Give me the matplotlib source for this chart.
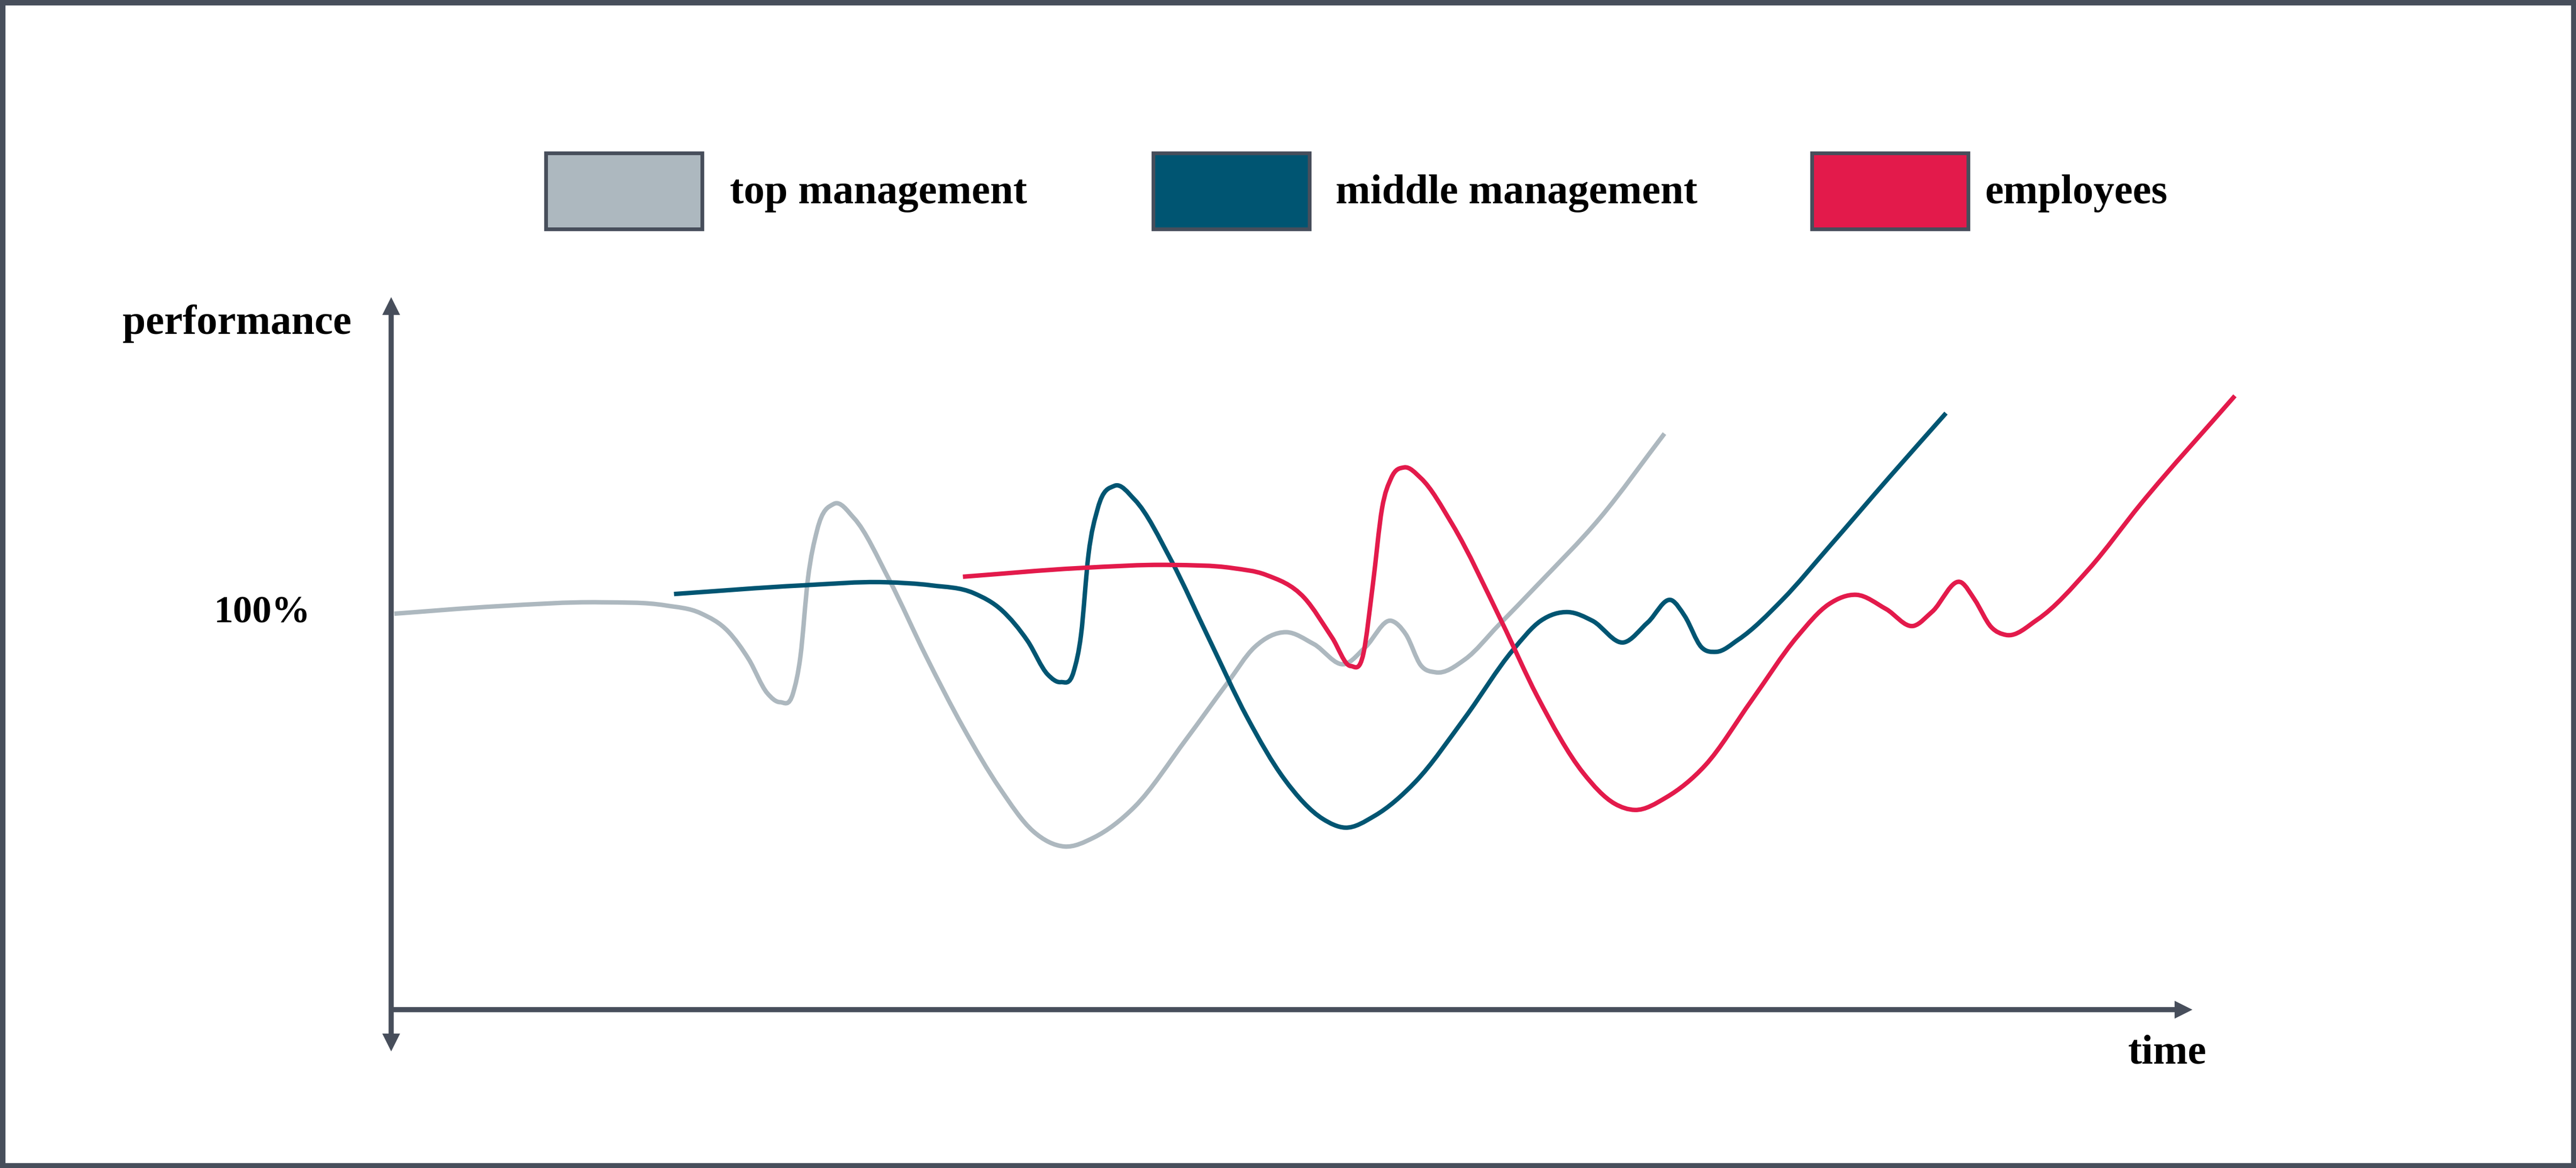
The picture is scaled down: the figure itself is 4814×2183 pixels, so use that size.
import numpy as np
import matplotlib
matplotlib.use('Agg')
import matplotlib.pyplot as plt
from matplotlib.path import Path
from matplotlib.patches import PathPatch, Rectangle

# Series (time, performance in %)
series_names = ['top management', 'middle management', 'employees']
series_colors = ['#adb8bf', '#005572', '#e31a4b']

top_t = [0.2, 5.8, 11.4, 14.9, 16.8, 18.3, 19.4, 20.4, 21.1, 21.8, 22.2, 22.6, 23.1,
         24.0, 25.1, 27.0, 29.0, 31.0, 33.0, 34.8, 36.5, 38.1, 40.3, 43.1, 45.3, 46.8, 48.5,
         50.0, 51.7, 52.8, 54.2, 55.0, 55.8, 56.6, 58.2, 60.0, 62.1, 65.5, 69.0]
top_p = [100.0, 101.9, 102.9, 102.1, 100.1, 95.4, 88.4, 79.8, 77.5, 79.8, 89.2, 108.7, 121.2,
         127.9, 124.3, 108.7, 89.2, 71.2, 55.6, 44.7, 40.8, 43.1, 50.9, 68.1, 82.2, 91.5, 95.3,
         92.3, 87.2, 91.5, 98.2, 94.7, 86.9, 85.1, 88.4, 97.0, 107.2, 124.3, 145.8]

mid_t = [15.35, 22.3, 26.8, 29.3, 31.6, 33.1, 34.5, 35.6, 36.3, 37.0, 37.4, 37.8, 38.3, 39.2,
         40.3, 42.3, 44.3, 46.4, 48.4, 50.5, 51.7, 53.3, 55.5, 58.2, 60.8, 62.3, 63.8,
         65.1, 66.8, 68.1, 69.4, 70.1, 71.0, 71.8, 73.0, 75.4, 77.9, 81.2, 84.25]
mid_p = [105.0, 107.2, 108.0, 107.2, 105.2, 100.9, 93.1, 84.5, 82.6, 85.3, 94.7, 115.0, 126.7, 132.5,
         129.0, 113.4, 93.9, 73.6, 58.0, 47.8, 45.6, 48.6, 57.2, 73.6, 90.8, 98.2, 100.4,
         98.2, 92.7, 97.8, 103.4, 99.4, 91.5, 90.3, 93.4, 103.6, 116.9, 134.8, 151.0]

emp_t = [31.0, 37.3, 42.3, 45.6, 47.4, 49.5, 51.0, 52.0, 52.7, 53.2, 53.7, 54.2, 54.9, 55.8,
         57.5, 60.2, 62.1, 64.6, 66.3, 67.4, 69.1, 71.2, 73.7, 76.2, 77.9, 79.4, 81.0, 82.5,
         83.5, 85.1, 85.8, 86.7, 87.5, 89.2, 92.0, 94.8, 99.9]
emp_p = [109.4, 111.6, 112.4, 111.6, 109.9, 104.0, 93.9, 86.7, 90.0, 107.2, 126.7, 134.5, 137.2, 134.5,
         122.8, 97.8, 79.1, 59.5, 51.7, 50.1, 53.3, 61.4, 77.8, 94.2, 102.4, 104.8, 101.2, 96.9,
         100.5, 107.9, 103.6, 96.6, 94.6, 98.5, 111.4, 127.9, 155.4]

series_t = [top_t, mid_t, emp_t]
series_p = [top_p, mid_p, emp_p]

axis_col = '#474e5b'
W, H = 4814, 2183


def smooth_path(xs, ys):
    # cubic hermite through the read points, written as bezier segments
    x = np.asarray(xs, float)
    y = np.asarray(ys, float)
    h = np.diff(x)
    d = np.diff(y) / h
    m = np.empty_like(y)
    m[0], m[-1] = d[0], d[-1]
    m[1:-1] = (d[:-1] * h[1:] + d[1:] * h[:-1]) / (h[:-1] + h[1:])
    verts = [(x[0], y[0])]
    codes = [Path.MOVETO]
    for i in range(len(x) - 1):
        verts += [(x[i] + h[i] / 3, y[i] + m[i] * h[i] / 3),
                  (x[i + 1] - h[i] / 3, y[i + 1] - m[i + 1] * h[i] / 3),
                  (x[i + 1], y[i + 1])]
        codes += [Path.CURVE4] * 3
    return Path(verts, codes)


fig = plt.figure(figsize=(W / 100, H / 100), dpi=100)
fig.patch.set_facecolor('white')

# axes placed so that t=0 sits on the y axis and p=100 on the 100% label
ax = fig.add_axes([730 / W, (H - 1992.25) / H, 3795 / W, 1506.75 / H])
ax.set_xlim(0, 110)
ax.set_ylim(-15, 190)
ax.axis('off')

# axes lines and arrow heads
ax.plot([0.03, 0.03], [-7.2, 176.5], color=axis_col, lw=6.9, solid_capstyle='butt', clip_on=False)
ax.plot([0.03, 96.75], [-0.7, -0.7], color=axis_col, lw=6.9, solid_capstyle='butt', clip_on=False)
head = dict(arrowstyle='-|>,head_length=24,head_width=12', mutation_scale=1,
            lw=0, fc=axis_col, ec=axis_col, shrinkA=0, shrinkB=0)
ax.annotate('', xy=(0.03, 180.5), xytext=(0.03, 170), arrowprops=head, annotation_clip=False)
ax.annotate('', xy=(0.03, -11.3), xytext=(0.03, 0), arrowprops=head, annotation_clip=False)
ax.annotate('', xy=(97.6, -0.7), xytext=(90, -0.7), arrowprops=head, annotation_clip=False)

for t, p, c in zip(series_t, series_p, series_colors):
    patch = PathPatch(smooth_path(t, p), fill=False, edgecolor=c, lw=6.0,
                      capstyle='butt', joinstyle='round', clip_on=False)
    ax.add_patch(patch)

font = dict(family='Liberation Serif', weight='bold', color='black')

# legend boxes
box_x = [1020, 2155, 3386]
text_x = [1364, 2496, 3709]
for bx, tx, name, c in zip(box_x, text_x, series_names, series_colors):
    fig.add_artist(Rectangle((bx / W, 1 - 428 / H), 292 / W, 142 / H, transform=fig.transFigure,
                             facecolor=c, edgecolor=axis_col, lw=5))
    fig.text(tx / W, 1 - 380 / H, name, fontsize=56, va='baseline', ha='left', **font)

fig.text(229 / W, 1 - 624 / H, 'performance', fontsize=56, va='baseline', ha='left', **font)
fig.text(580 / W, 1 - 1164 / H, '100%', fontsize=52, va='baseline', ha='right', **font)
fig.text(3977 / W, 1 - 1988 / H, 'time', fontsize=56, va='baseline', ha='left', **font)

# outer frame
fig.add_artist(Rectangle((0, 0), 1, 1, transform=fig.transFigure, fill=False,
                         edgecolor=axis_col, lw=14))

fig.savefig('out.png', dpi=100, facecolor='white')
